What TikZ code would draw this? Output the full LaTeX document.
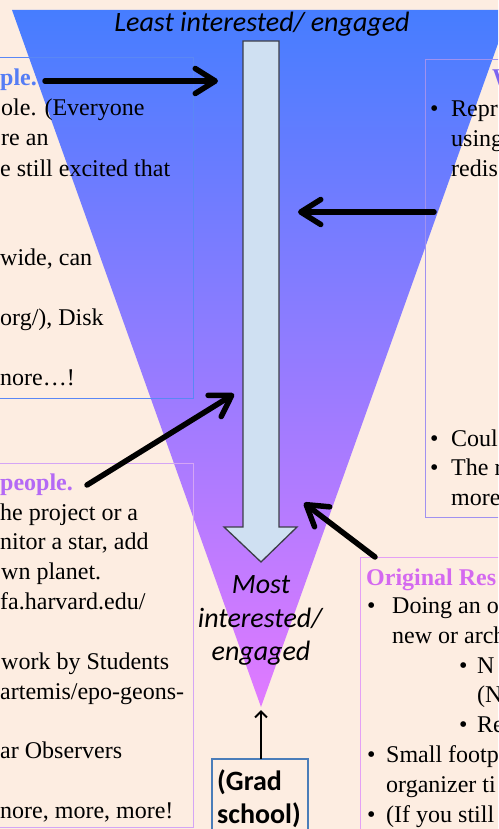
\documentclass[tikz,border=0pt]{standalone}
\usepackage{fontspec}
\setmainfont{Liberation Serif}
\newfontfamily\calfont{Carlito}
\usetikzlibrary{arrows.meta}
\definecolor{peach}{RGB}{253,237,225}
\definecolor{tritop}{RGB}{70,125,255}
\definecolor{trimid}{RGB}{160,120,255}
\definecolor{tribot}{RGB}{225,122,255}
\definecolor{shaftfill}{RGB}{207,224,242}
\definecolor{shaftline}{RGB}{60,62,72}
\definecolor{boxA}{RGB}{90,135,245}
\definecolor{boxB}{RGB}{212,165,245}
\definecolor{boxC}{RGB}{160,145,240}
\definecolor{boxD}{RGB}{228,160,245}
\definecolor{titleA}{RGB}{85,125,245}
\definecolor{titleB}{RGB}{180,105,245}
\definecolor{titleC}{RGB}{125,100,240}
\definecolor{titleD}{RGB}{212,105,240}
\definecolor{gradbox}{RGB}{75,125,185}
\tikzset{
  txt/.style={anchor=base west, inner sep=0pt, font=\fontsize{24}{29}\selectfont},
  ttl/.style={txt, font=\fontsize{24}{29}\selectfont\bfseries},
  lab/.style={anchor=base, inner sep=0pt, font=\fontsize{28}{33}\selectfont\calfont\itshape},
  frame/.style={line width=1pt},
  bigarrow/.style={line width=5.5pt, line cap=round, -{Straight Barb[length=20pt,width=25pt,round]}},
  thinarrow/.style={line width=2pt, -{Straight Barb[length=6pt,width=12pt]}}
}
\begin{document}
\begin{tikzpicture}[x=1pt,y=-1pt]
\useasboundingbox (0,0) rectangle (498,829);
\clip (0,0) rectangle (498,829);
\fill[peach] (0,0) rectangle (498,829);
% funnel
\shade[top color=tritop, middle color=trimid, bottom color=tribot] (12,10) -- (510,10) -- (261,707) -- cycle;
% boxes
\draw[frame, boxA] (-5,58) rectangle (193,398);
\draw[frame, boxB] (-5,463) rectangle (193,827);
\draw[frame, boxC] (425,60) rectangle (505,517);
\draw[frame, boxD] (360,557) rectangle (505,840);
% big down arrow
\draw[fill=shaftfill, draw=shaftline, line width=1.3pt, line join=miter]
  (243,41) -- (279,41) -- (279,527) -- (297,527) -- (261,562) -- (224,527) -- (243,527) -- cycle;
% labels in funnel
\node[lab] (least) at (262,32) {Least interested/ engaged};
\node[lab] (most1) at (261,593) {Most};
\node[lab] (most2) at (260,627) {interested/};
\node[lab] (most3) at (261,660) {engaged};
% left box 1
\node[ttl, text=titleA] (l1) at (0,86) {ple.};
\node[txt] (l2) at (1,116) {ole. (Everyone};
\node[txt] (l3) at (1,146) {re an};
\node[txt] (l4) at (0,176) {e still excited that};
\node[txt] (l5) at (0,265) {wide, can};
\node[txt] (l6) at (0,325) {org/), Disk};
\node[txt] (l7) at (0,385) {nore…!};
% left box 2
\node[ttl, text=titleB] (m1) at (0,490) {people.};
\node[txt] (m2) at (0,520) {he project or a};
\node[txt] (m3) at (0,549) {nitor a star, add};
\node[txt] (m4) at (1,579) {wn planet.};
\node[txt] (m5) at (0,609) {fa.harvard.edu/};
\node[txt] (m6) at (1,669) {work by Students};
\node[txt] (m7) at (0,699) {artemis/epo-geons-};
\node[txt] (m8) at (0,758) {ar Observers};
\node[txt] (m9) at (0,818) {nore, more, more!};
% right box 1
\node[ttl, text=titleC] (r1) at (492,86) {W};
\node[txt] (r2) at (430,117) {\makebox[21pt][l]{•}Repr};
\node[txt] (r3) at (451,147) {using};
\node[txt] (r4) at (451,176) {redis};
\node[txt] (r5) at (430,446) {\makebox[21pt][l]{•}Coul};
\node[txt] (r6) at (430,475) {\makebox[21pt][l]{•}The r};
\node[txt] (r7) at (451,505) {more};
% right box 2
\node[ttl, text=titleD] (s1) at (366,585) {Original Res};
\node[txt] (s2) at (367,613) {\makebox[25pt][l]{•}Doing an o};
\node[txt] (s3) at (392,643) {new or arch};
\node[txt] (s4) at (459,673) {\makebox[18pt][l]{•}N};
\node[txt] (s5) at (477,702) {(N};
\node[txt] (s6) at (459,732) {\makebox[18pt][l]{•}Re};
\node[txt] (s7) at (367,762) {\makebox[19pt][l]{•}Small footp};
\node[txt] (s8) at (386,792) {organizer ti};
\node[txt] (s9) at (367,822) {\makebox[19pt][l]{•}(If you still};
% grad school box
\draw[line width=1.2pt, draw=gradbox, fill=peach] (212,759) rectangle (308,840);
\node[anchor=base west, inner sep=0pt, font=\fontsize{28}{33}\selectfont\calfont\bfseries] (grad) at (217,790) {(Grad};
\node[anchor=base west, inner sep=0pt, font=\fontsize{28}{33}\selectfont\calfont\bfseries] (school) at (217,823) {school)};
% connector endpoints
\coordinate (gradtop) at (261,759);
\coordinate (apex) at (261,710);
\coordinate (a1s) at (45,81);   \coordinate (a1e) at (218,81);
\coordinate (a2s) at (434,212); \coordinate (a2e) at (298,212);
\coordinate (a3s) at (87,485);  \coordinate (a3e) at (234,394);
\coordinate (a4s) at (375,557); \coordinate (a4e) at (304,503);
\draw[bigarrow] (a1s) -- (a1e);
\draw[bigarrow] (a2s) -- (a2e);
\draw[bigarrow] (a3s) -- (a3e);
\draw[bigarrow] (a4s) -- (a4e);
\draw[thinarrow] (gradtop) -- (apex);
\end{tikzpicture}
\end{document}
